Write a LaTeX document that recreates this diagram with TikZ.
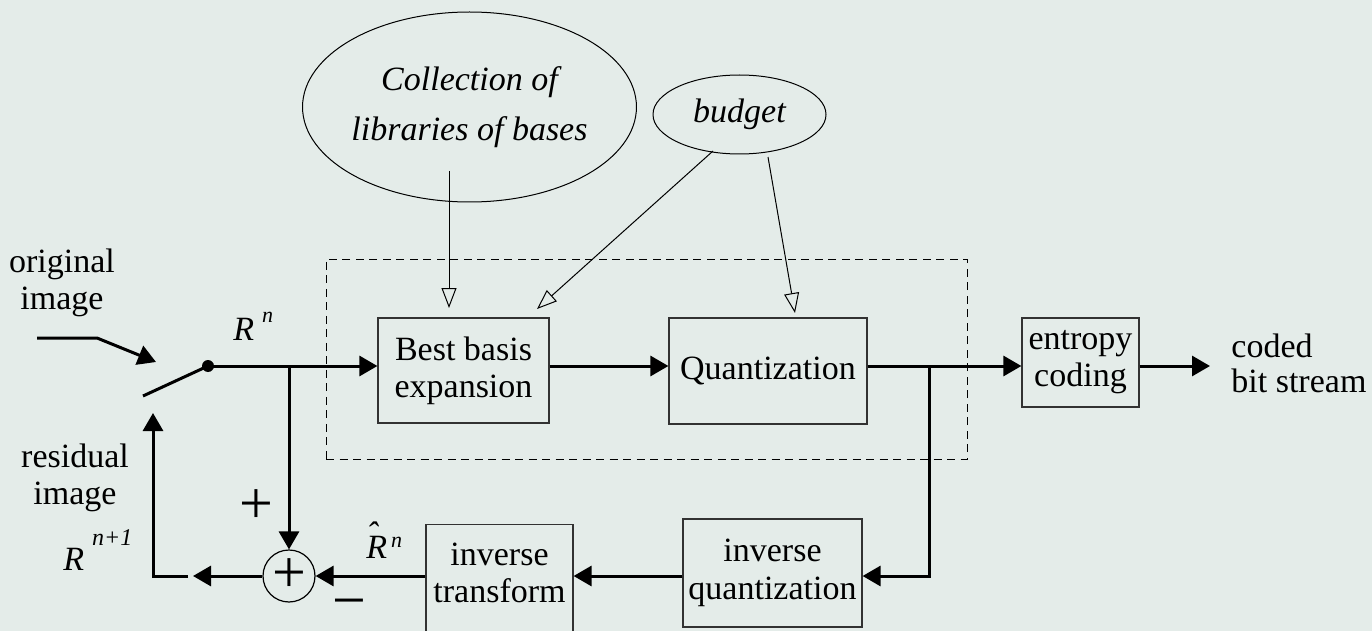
\documentclass[tikz,border=0pt]{standalone}
\usepackage{fontspec}
\setmainfont{Liberation Serif}
\usetikzlibrary{arrows.meta,shapes.geometric}
\definecolor{bg}{RGB}{228,236,233}
\definecolor{boxc}{RGB}{50,50,50}
\begin{document}
\begin{tikzpicture}[x=0.5pt,y=-0.5pt,
  txt/.style={font=\fontsize{17}{18.5}\selectfont, align=center, inner sep=0pt},
  box/.style={draw=boxc, line width=0.6pt, inner sep=0pt, align=center, font=\fontsize{17}{18.5}\selectfont},
  arr/.style={line width=1.5pt, -{Triangle[length=9pt,width=10pt]}},
  oarr/.style={line width=0.5pt, -{Triangle[open,length=10pt,width=7.5pt]}},
  ell/.style={draw, ellipse, line width=0.5pt, inner sep=0pt, align=center, font=\fontsize{17}{25}\selectfont\itshape},
  sign/.style={font=\fontsize{30}{30}\selectfont, inner sep=0pt},
  lab/.style={inner sep=0pt, anchor=base west, font=\fontsize{17}{17}\selectfont\itshape}
]
\fill[bg] (0,0) rectangle (1372,631);
\useasboundingbox (0,0) rectangle (1372,631);

% group frame
\node[draw, dashed, dash pattern=on 4pt off 2.75pt, line width=0.5pt, minimum width=320.5pt, minimum height=100pt, inner sep=0pt] (grp) at (646.5,359) {};

% blocks
\node[box, minimum width=85.5pt, minimum height=52.5pt] (bb) at (463.5,370.5) {Best basis\\expansion};
\node[box, minimum width=99pt, minimum height=53pt] (q) at (768,371) {Quantization};
\node[box, minimum width=58.5pt, minimum height=44.5pt] (ec) at (1080.5,362.5) {entropy\\coding};
\node[box, minimum width=89.5pt, minimum height=54pt, font=\fontsize{17}{19}\selectfont] (iq) at (772.5,573) {inverse\\quantization};
\node[box, minimum width=73.5pt, minimum height=63pt, anchor=north] (it) at (499.5,524) {};
\node[txt] (itt) at (499.5,573) {inverse\\transform};

% ellipses
\node[ell, minimum width=139.5pt, minimum height=95pt] (coll) at (469.5,107) {\raisebox{2pt}{Collection of}\\\raisebox{2pt}{libraries of bases}};
\node[ell, minimum width=86.5pt, minimum height=39.5pt] (bud) at (739.5,114.5) {budget};

% summing junction
\node[draw, circle, line width=0.6pt, minimum size=26pt, inner sep=0pt, font=\fontsize{30}{30}\selectfont] (sum) at (289,576) {+};

% labels
\node[txt] (orig) at (62,283) {original\\image};
\node[txt] (resid) at (75,478) {residual\\image};
\node[txt, align=left, anchor=west, font=\fontsize{17}{17.5}\selectfont] (coded) at (1231,363) {coded\\bit stream};
\node[sign] (plus) at (256,507) {+};
\node[sign] (minus) at (349,610) {−};
\node[lab] (rn) at (233,340) {R\hspace{4pt}\raisebox{9pt}{\fontsize{11}{11}\selectfont n}};
\node[lab] (rhat) at (366,558) {\rlap{\raisebox{6.5pt}{ˆ}}R\hspace{2pt}\raisebox{5.5pt}{\fontsize{11}{11}\selectfont n}};
\node[lab] (rn1) at (63,570) {R\hspace{4pt}\raisebox{12.5pt}{\fontsize{12}{12}\selectfont n+1}};

% switch
\coordinate (in0) at (37,338);
\coordinate (in1) at (97,338);
\coordinate (in2) at (156,362);
\draw[arr] (in0) -- (in1) -- (in2);
\coordinate (swl) at (143,396);
\node[circle, fill, inner sep=0pt, minimum size=6pt] (dot) at (208,366) {};
\draw[line width=1.5pt] (swl) -- (dot.center);

% forward path
\draw[arr] (dot.center) -- (bb.west |- dot);
\coordinate (br1) at (289,366);
\draw[arr] (br1) -- (sum.north);
\draw[arr] (bb.east |- dot) -- (q.west |- dot);
\draw[arr] (q.east |- dot) -- (ec.west |- dot);
\coordinate (out) at (1210,366);
\draw[arr] (ec.east |- dot) -- (out);

% feedback path
\coordinate (br2) at (929,366);
\draw[arr] (br2) |- (iq.east |- sum);
\draw[arr] (iq.west |- sum) -- (it.east |- sum);
\draw[arr] (it.west |- sum) -- (sum.east);
\coordinate (fbt) at (193,576);
\coordinate (fbs) at (188,576);
\coordinate (fbc) at (153,576);
\coordinate (fbe) at (153,413);
\draw[arr] (sum.west) -- (fbt);
\draw[arr] (fbs) -- (fbc) -- (fbe);

% control inputs
\coordinate (c1) at (449,171);
\coordinate (c1t) at (449,308);
\coordinate (b1) at (713,151);
\coordinate (b1t) at (537,309);
\coordinate (b2) at (768,157);
\coordinate (b2t) at (795,313);
\draw[oarr] (c1) -- (c1t);
\draw[oarr] (b1) -- (b1t);
\draw[oarr] (b2) -- (b2t);
\end{tikzpicture}
\end{document}
